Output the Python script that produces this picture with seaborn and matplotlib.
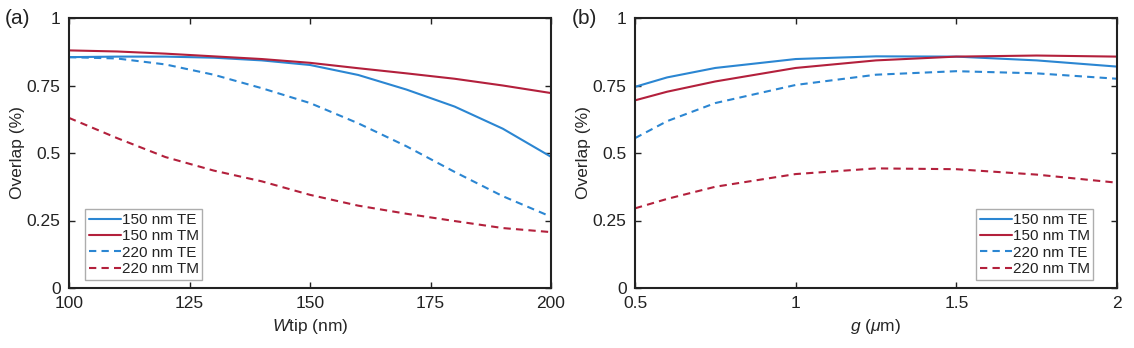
import numpy as np
import pandas as pd
import matplotlib
matplotlib.use("Agg")
import matplotlib.pyplot as plt
import seaborn as sns

# Panel (a): overlap vs Wtip (nm)
wtip = [100, 110, 120, 130, 140, 150, 160, 170, 180, 190, 200]
a_150_te = [0.855, 0.857, 0.857, 0.853, 0.843, 0.826, 0.789, 0.735, 0.672, 0.590, 0.486]
a_150_tm = [0.880, 0.876, 0.868, 0.858, 0.848, 0.834, 0.814, 0.795, 0.775, 0.750, 0.722]
a_220_te = [0.855, 0.850, 0.828, 0.790, 0.740, 0.685, 0.610, 0.525, 0.430, 0.340, 0.264]
a_220_tm = [0.630, 0.555, 0.485, 0.435, 0.395, 0.345, 0.305, 0.275, 0.248, 0.222, 0.207]

# Panel (b): overlap vs g (um)
g = [0.5, 0.6, 0.75, 1.0, 1.25, 1.5, 1.75, 2.0]
b_150_te = [0.745, 0.780, 0.815, 0.848, 0.858, 0.857, 0.843, 0.820]
b_150_tm = [0.695, 0.727, 0.765, 0.815, 0.843, 0.857, 0.861, 0.857]
b_220_te = [0.555, 0.618, 0.685, 0.752, 0.790, 0.803, 0.795, 0.775]
b_220_tm = [0.295, 0.330, 0.375, 0.422, 0.443, 0.440, 0.420, 0.390]

series_names = ["150 nm TE", "150 nm TM", "220 nm TE", "220 nm TM"]
y_ticks = [0, 0.25, 0.5, 0.75, 1]
y_ticklabels = ["0", "0.25", "0.5", "0.75", "1"]

def long_df(x, ys):
    rows = []
    for name, y in zip(series_names, ys):
        for xi, yi in zip(x, y):
            rows.append({"x": xi, "y": yi, "series": name})
    return pd.DataFrame(rows)

dfa = long_df(wtip, [a_150_te, a_150_tm, a_220_te, a_220_tm])
dfb = long_df(g, [b_150_te, b_150_tm, b_220_te, b_220_tm])

sns.set_theme(style="white")
plt.rcParams["font.family"] = ["Liberation Sans", "DejaVu Sans"]
plt.rcParams["mathtext.fontset"] = "custom"
plt.rcParams["mathtext.it"] = "Liberation Sans:italic"
plt.rcParams["mathtext.rm"] = "Liberation Sans"

blue = "#2b86d2"
red = "#b3203c"
palette = {"150 nm TE": blue, "150 nm TM": red, "220 nm TE": blue, "220 nm TM": red}
dashes = {"150 nm TE": "", "150 nm TM": "", "220 nm TE": (3.5, 2.5), "220 nm TM": (3.5, 2.5)}

fig = plt.figure(figsize=(11.34, 3.48), dpi=100)
ax1 = fig.add_axes([69/1134, 60/348, 482/1134, 270/348])
ax2 = fig.add_axes([635/1134, 60/348, 482/1134, 270/348])

for ax, df, xlim, xticks, xticklabels, xlabel, loc, anchor in [
    (ax1, dfa, (100, 200), [100, 125, 150, 175, 200], ["100", "125", "150", "175", "200"],
     r"$\mathit{W}$tip (nm)", "lower left", (0.033, 0.03)),
    (ax2, dfb, (0.5, 2), [0.5, 1, 1.5, 2], ["0.5", "1", "1.5", "2"],
     r"$\mathit{g}$ ($\mathit{\mu}$m)", "lower right", (0.951, 0.03)),
]:
    sns.lineplot(data=df, x="x", y="y", hue="series", style="series",
                 palette=palette, dashes=dashes, linewidth=1.5, ax=ax,
                 hue_order=series_names, style_order=series_names)
    ax.set_xlim(*xlim)
    ax.set_ylim(0, 1)
    ax.set_xticks(xticks)
    ax.set_xticklabels(xticklabels)
    ax.set_yticks(y_ticks)
    ax.set_yticklabels(y_ticklabels)
    ax.set_xlabel(xlabel, fontsize=12.5, labelpad=4)
    ax.set_ylabel("Overlap (%)", fontsize=12.5, labelpad=1)
    ax.tick_params(direction="in", length=4, width=1, labelsize=12.5, colors="#222222",
                   top=True, right=True, bottom=True, left=True,
                   labeltop=False, labelright=False, pad=6)
    for s in ax.spines.values():
        s.set_linewidth(1.5)
        s.set_color("#222222")
    leg = ax.legend(loc=loc, bbox_to_anchor=anchor, fontsize=11, frameon=True,
                    fancybox=False, edgecolor="#999999", handlelength=2.1,
                    handletextpad=0.05, borderpad=0.25, labelspacing=0.15,
                    borderaxespad=0.0)
    leg.get_frame().set_linewidth(1.0)
    for t in leg.get_texts():
        t.set_color("#222222")

fig.text(5/1134, 1 - 19/348, "(a)", fontsize=15, va="center", ha="left", color="#222222")
fig.text(572/1134, 1 - 19/348, "(b)", fontsize=15, va="center", ha="left", color="#222222")

fig.savefig("out.png", dpi=100)
